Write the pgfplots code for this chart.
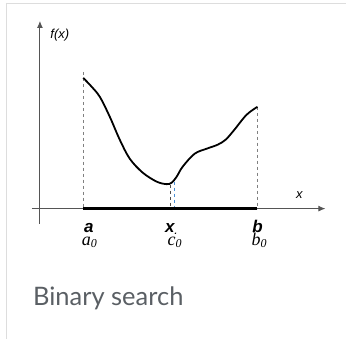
\documentclass[border=0pt]{standalone}
\usepackage{pgfplots}
\pgfplotsset{compat=1.18}
\usepackage{fontspec}
\setmainfont{Liberation Sans}
\newfontfamily\capfont{Lato}
\newfontfamily\mathfont{Liberation Serif}
\usetikzlibrary{arrows.meta}
\definecolor{axisgray}{HTML}{555555}
\definecolor{framegray}{HTML}{DDDDDD}
\definecolor{capgray}{HTML}{5A5F64}
\definecolor{markblue}{HTML}{4A8FD6}

\begin{document}
\begin{tikzpicture}
\begin{axis}[
  scale only axis, width=347pt, height=340pt,
  xmin=0, xmax=347, ymin=0, ymax=340, y dir=reverse,
  hide axis, clip=false,
]
% page extent and card frame
\path (axis cs:0,0) rectangle (axis cs:347,340);
\draw[framegray, line width=1.3pt] (axis cs:6,3.5) -- (axis cs:347,3.5);
\draw[framegray, line width=1.3pt] (axis cs:6.5,3) -- (axis cs:6.5,340);

% coordinate axes
\draw[axisgray, line width=0.9pt, -{Latex[length=7pt,width=6pt]}] (axis cs:40,224) -- (axis cs:40,21);
\draw[axisgray, line width=0.9pt, -{Latex[length=7pt,width=6pt]}] (axis cs:32,209) -- (axis cs:326,209);
\node[font=\itshape\fontsize{13}{15}\selectfont, anchor=west] at (axis cs:47,35) {f(x)};
\node[font=\itshape\fontsize{13}{15}\selectfont] at (axis cs:300,195) {x};

% bracketing interval and guides
\addplot[gray, dashed, line width=0.6pt] coordinates {(83,72) (83,209)};
\addplot[gray, dashed, line width=0.6pt] coordinates {(258,107) (258,209)};
\addplot[black!70, dashed, line width=0.6pt] coordinates {(171,185) (171,209)};
\addplot[markblue, dashed, line width=0.9pt] coordinates {(175,182) (175,209)};
\addplot[black, line width=2.6pt] coordinates {(83,209) (257,209)};

% objective function
\addplot[black, line width=1.8pt, smooth, tension=0.55] coordinates {
  (83.3,78) (91,86) (100,97) (110,117) (120,140) (130,159)
  (143,173) (157,182) (167,184.5) (172,183) (177,177) (183,167)
  (195,154) (207,149) (218,145) (226,140) (234,131) (247,115) (258,107)
};

% labels
\node[font=\bfseries\itshape\fontsize{17}{19}\selectfont, inner sep=0pt, anchor=base] at (axis cs:89,233) {a};
\node[font=\bfseries\itshape\fontsize{17}{19}\selectfont, inner sep=0pt, anchor=base] at (axis cs:258,233) {b};
\node[font=\bfseries\itshape\fontsize{17}{19}\selectfont, inner sep=0pt, anchor=base] at (axis cs:171.5,233) {x\raisebox{-1.5pt}{\fontsize{9}{9}\selectfont .}};
\node[font=\mathfont\itshape\fontsize{18}{20}\selectfont, inner sep=0pt, anchor=base] at (axis cs:89.5,245.5) {a\raisebox{-2.5pt}{\fontsize{12}{12}\selectfont 0}};
\node[font=\mathfont\itshape\fontsize{18}{20}\selectfont, inner sep=0pt, anchor=base] at (axis cs:175,245.5) {c\raisebox{-2.5pt}{\fontsize{12}{12}\selectfont 0}};
\node[font=\mathfont\itshape\fontsize{18}{20}\selectfont, inner sep=0pt, anchor=base] at (axis cs:259.5,245.5) {b\raisebox{-2.5pt}{\fontsize{12}{12}\selectfont 0}};

% caption
\node[font=\capfont\fontsize{25.5}{28}\selectfont, text=capgray, anchor=base west, inner sep=0pt] at (axis cs:33,306) {Binary search};
\end{axis}
\end{tikzpicture}
\end{document}
